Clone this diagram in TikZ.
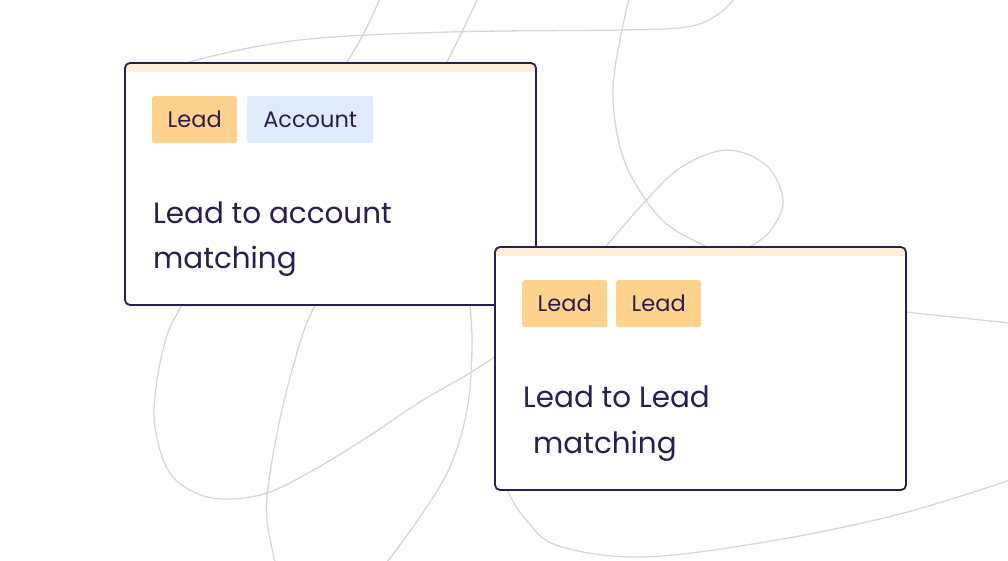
\documentclass[tikz,border=0pt]{standalone}
\usepackage{fontspec}
\setmainfont{Poppins}
\definecolor{ink}{HTML}{2B1D4E}
\definecolor{wire}{HTML}{D6D3DC}
\definecolor{peach}{HTML}{FFD38E}
\definecolor{sky}{HTML}{E0EBFE}
\definecolor{strip}{HTML}{FFEFD8}
\begin{document}
\begin{tikzpicture}[x=1pt,y=-1pt,
    wire/.style={draw=wire,line width=1.3pt},
    card/.style={fill=white,draw=ink,line width=1.8pt,rounded corners=5pt},
    tag/.style={anchor=north west,inner sep=0pt,minimum width=85pt,minimum height=47pt,
      rounded corners=2pt,text=ink,font=\fontsize{22.5}{22.5}\selectfont},
    title/.style={anchor=base west,inner sep=0pt,text=ink,font=\fontsize{29.4}{29.4}\selectfont}]
    \useasboundingbox (0,0) rectangle (1008,560);
    % background wires
    \draw[wire] plot[smooth,tension=0.6] coordinates {(160,78) (193,61) (300,40) (450,32) (620,30) (687,27) (717,15) (735,-2)};
    \draw[wire] plot[smooth,tension=0.6] coordinates {(380,-2) (347,62) (260,180) (182,305) (163,350) (154,410) (160,450) (173,477) (198,494) (228,499) (267,493) (310,472) (363,440) (420,402) (493,358) (555,305) (607,245) (642,205) (680,168) (727,150) (767,166) (783,200) (773,227) (753,245) (720,258)};
    \draw[wire] plot[smooth,tension=0.6] coordinates {(478,-2) (447,62) (380,190) (315,305) (293,367) (277,433) (267,497) (268,527) (275,562)};
    \draw[wire] plot[smooth,tension=0.6] coordinates {(466,270) (470,305) (472,350) (467,410) (450,467) (420,517) (387,562)};
    \draw[wire] plot[smooth,tension=0.55] coordinates {(629,-2) (613,87) (624,160) (660,218) (703,245) (730,256)};
    \draw[wire] plot[smooth,tension=0.6] coordinates {(860,306) (906,312) (1010,323)};
    \draw[wire] plot[smooth,tension=0.6] coordinates {(506,470) (508,491) (527,521) (559,546) (643,557) (771,541) (900,514) (1010,480)};
    % card one
    \fill[white,rounded corners=5pt] (125,63) rectangle (536,305);
    \begin{scope}
      \clip[rounded corners=5pt] (125,63) rectangle (536,305);
      \fill[strip] (125,63) rectangle (536,72);
    \end{scope}
    \draw[card,fill=none] (125,63) rectangle (536,305);
    \node[tag,fill=peach] (lead1) at (152,96) {Lead};
    \node[tag,fill=sky,minimum width=126pt] (acct) at (247,96) {Account};
    \node[title] (t1) at (153,223) {Lead to account};
    \node[title] (t1b) at (153,268) {matching};
    % card two
    \fill[white,rounded corners=5pt] (495,247) rectangle (906,490);
    \begin{scope}
      \clip[rounded corners=5pt] (495,247) rectangle (906,490);
      \fill[strip] (495,247) rectangle (906,256);
    \end{scope}
    \draw[card,fill=none] (495,247) rectangle (906,490);
    \node[tag,fill=peach] (lead2) at (522,280) {Lead};
    \node[tag,fill=peach] (lead3) at (616,280) {Lead};
    \node[title] (t2) at (523,407) {Lead to Lead};
    \node[title] (t2b) at (533,453) {matching};
\end{tikzpicture}
\end{document}
